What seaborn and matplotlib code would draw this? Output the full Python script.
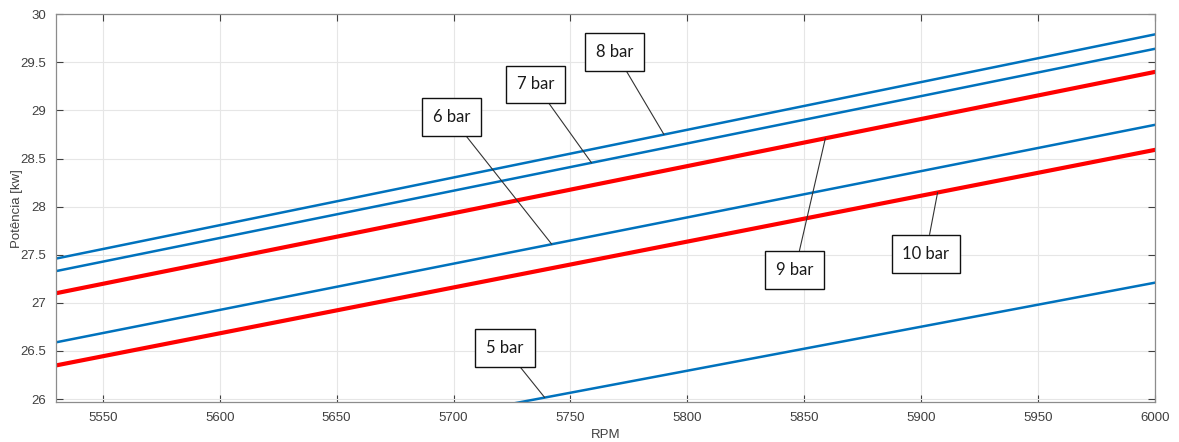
import pandas as pd
import seaborn as sns
import matplotlib.pyplot as plt

# ==========================================
# DATA
# ==========================================
RPM = [5530, 6000]
P5 = [25.06, 27.21]
P6 = [26.59, 28.85]
P7 = [27.33, 29.64]
P8 = [27.46, 29.79]
P9 = [27.10, 29.40]
P10 = [26.35, 28.59]

SERIES = ["5 bar", "6 bar", "7 bar", "8 bar", "9 bar", "10 bar"]
VALUES = [P5, P6, P7, P8, P9, P10]

# label text position (rpm, kw) and point on the line it points to
LABEL_POS = {
    "5 bar": ((5722, 26.53), 5739),
    "6 bar": ((5699, 28.93), 5742),
    "7 bar": ((5735, 29.27), 5759),
    "8 bar": ((5769, 29.61), 5790),
    "9 bar": ((5846, 27.34), 5859),
    "10 bar": ((5902, 27.51), 5907),
}
# ==========================================

BLUE = "#0072BD"
RED = "#FF0000"
colors = {"5 bar": BLUE, "6 bar": BLUE, "7 bar": BLUE, "8 bar": BLUE,
          "9 bar": RED, "10 bar": RED}
widths = {"5 bar": 1.8, "6 bar": 1.8, "7 bar": 1.8, "8 bar": 1.8,
          "9 bar": 3.0, "10 bar": 3.0}

rows = []
for name, vals in zip(SERIES, VALUES):
    for x, y in zip(RPM, vals):
        rows.append({"rpm": x, "kw": y, "serie": name})
df = pd.DataFrame(rows)

sns.set_theme(style="white")
plt.rcParams["font.family"] = ["Liberation Sans", "DejaVu Sans"]

fig = plt.figure(figsize=(11.79, 4.42), dpi=100)
ax = fig.add_axes([0.0475, 0.0905, 0.9322, 0.8775])

for name in SERIES:
    sub = df[df["serie"] == name]
    sns.lineplot(data=sub, x="rpm", y="kw", ax=ax, color=colors[name],
                 linewidth=widths[name], legend=False)

ax.set_xlim(5530, 6000)
ax.set_ylim(25.97, 30)
ax.set_xticks([5550, 5600, 5650, 5700, 5750, 5800, 5850, 5900, 5950, 6000])
ax.set_yticks([26, 26.5, 27, 27.5, 28, 28.5, 29, 29.5, 30])
ax.set_yticklabels(["26", "26.5", "27", "27.5", "28", "28.5", "29", "29.5", "30"])

ax.grid(True, color="#e6e6e6", linewidth=0.8)
ax.set_axisbelow(True)
for s in ax.spines.values():
    s.set_color("#8c8c8c")
    s.set_linewidth(0.9)
ax.tick_params(direction="in", length=5, width=0.8, color="#404040",
               top=True, right=True, labelsize=9.5, labelcolor="#404040",
               bottom=True, left=True)
ax.tick_params(axis="x", pad=7)
ax.tick_params(axis="y", pad=7)

ax.set_xlabel("RPM", fontsize=9.5, color="#404040", labelpad=4)
ax.set_ylabel("Potência [kw]", fontsize=9.5, color="#404040", labelpad=-1.5)

# annotation boxes
for name, vals in zip(SERIES, VALUES):
    (tx, ty), px = LABEL_POS[name]
    slope = (vals[1] - vals[0]) / (RPM[1] - RPM[0])
    py = vals[0] + slope * (px - RPM[0])
    ax.annotate(name, xy=(px, py), xytext=(tx, ty), ha="center", va="center",
                fontsize=12, family=["Lato", "DejaVu Sans"], color="#1a1a1a",
                bbox=dict(boxstyle="square,pad=0.65", fc="white", ec="#111111", lw=1.0),
                arrowprops=dict(arrowstyle="-", color="#333333", lw=0.8,
                                shrinkA=0, shrinkB=0),
                annotation_clip=False)

plt.savefig("out.png", dpi=100)
